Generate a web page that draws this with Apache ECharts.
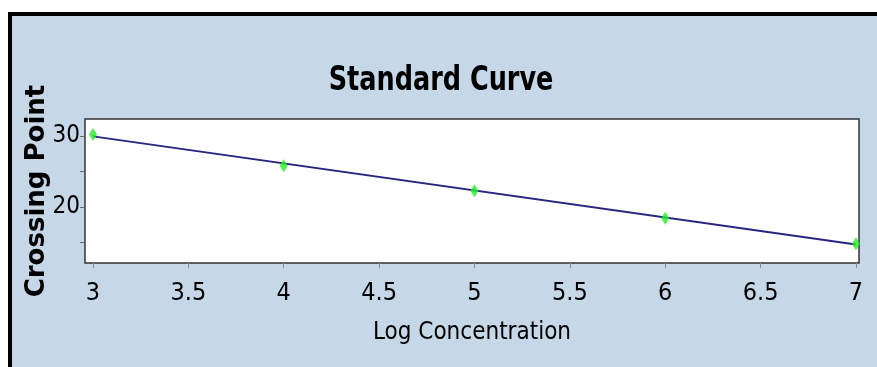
<!DOCTYPE html>
<html><head><meta charset="utf-8">
<script src="https://cdn.jsdelivr.net/npm/echarts@6/dist/echarts.min.js"></script>
<style>html,body{margin:0;padding:0;background:#fff}#c{width:877px;height:367px}</style>
</head><body><div id="c"></div>
<script>
const logConc = [3, 4, 5, 6, 7];
const crossingPoint = [30.2, 25.8, 22.3, 18.4, 14.8];
const fitX = [3, 7];
const fitY = [29.95, 14.7];
const xTicks = [3, 3.5, 4, 4.5, 5, 5.5, 6, 6.5, 7];
const yTickLabels = [20, 30];
const yTickMarks = [15, 20, 25, 30];
const titleText = 'Standard Curve';
const xName = 'Log Concentration';
const yName = 'Crossing Point';

const chart = echarts.init(document.getElementById('c'));
const narrow = "'DejaVu Sans Condensed', sans-serif";
chart.setOption({
  backgroundColor: '#ffffff',
  animation: false,
  graphic: [{
    type: 'rect', z: -10, silent: true,
    shape: {x: 10, y: 14, width: 900, height: 400},
    style: {fill: '#c6d7e8', stroke: '#000', lineWidth: 4}
  }, {
    type: 'text', x: 441, y: 81, z: 10, scaleX: 0.86,
    style: {text: titleText, font: "bold 33px 'DejaVu Sans Condensed'", fill: '#000', align: 'center', verticalAlign: 'middle'}
  }],
  grid: {left: 85, top: 119, right: 18, bottom: 104, show: true,
    backgroundColor: '#ffffff', borderColor: '#333', borderWidth: 1.5},
  xAxis: {
    type: 'value', min: 2.958, max: 7.016,
    name: xName, nameLocation: 'middle', nameGap: 58, nameMoveOverlap: false,
    nameTextStyle: {fontFamily: narrow, fontSize: 24, color: '#000'},
    axisLine: {show: false},
    splitLine: {show: false},
    axisTick: {show: true, length: 5, lineStyle: {color: '#888'}, customValues: xTicks},
    axisLabel: {fontFamily: narrow, fontSize: 25, color: '#000', margin: 18, customValues: xTicks,
      formatter: v => String(v)}
  },
  yAxis: {
    type: 'value', min: 12.1, max: 32.4,
    name: yName, nameLocation: 'middle', nameGap: 35, nameRotate: 90, nameMoveOverlap: false,
    nameTextStyle: {fontFamily: "'DejaVu Sans', sans-serif", fontWeight: 'bold', fontSize: 26, color: '#000'},
    axisLine: {show: false},
    splitLine: {show: false},
    axisTick: {show: true, length: 5, lineStyle: {color: '#666'}, customValues: yTickMarks},
    axisLabel: {fontFamily: narrow, fontSize: 24, color: '#000', margin: 5, customValues: yTickLabels}
  },
  series: [
    {type: 'line', data: fitX.map((x, i) => [x, fitY[i]]), symbol: 'none',
      lineStyle: {color: '#262680', width: 2}, z: 2},
    {type: 'scatter', data: logConc.map((x, i) => [x, crossingPoint[i]]),
      symbol: 'diamond', symbolSize: [8, 13], itemStyle: {color: '#22ee22'}, z: 3}
  ]
});
</script></body></html>
